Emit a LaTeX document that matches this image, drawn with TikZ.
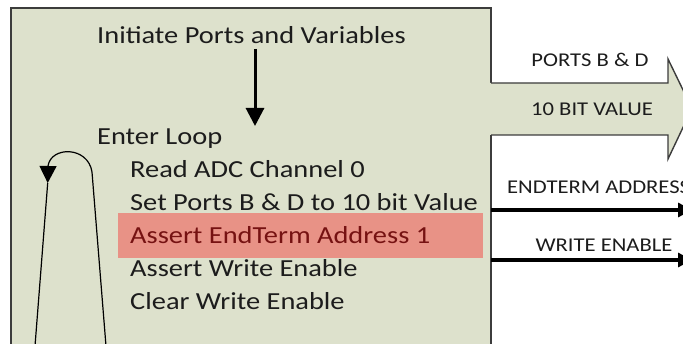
\documentclass[tikz,border=0pt]{standalone}
\usepackage{fontspec}
\setmainfont{Carlito}[FakeStretch=1.16]
\usetikzlibrary{arrows.meta}

\begin{document}
\begin{tikzpicture}[x=1pt,y=-1pt,
  step text/.style={anchor=base west, inner sep=0pt, text=txt, font=\fontsize{24.5}{28}\selectfont},
  sig text/.style={anchor=base, inner sep=0pt, text=txt, font=\fontsize{19.5}{22}\selectfont},
  frame/.style={line width=1.4pt, draw=edge},
  flow/.style={line width=3pt, draw=black, -{Triangle[width=18pt,length=18pt]}},
  loopline/.style={line width=1.2pt, draw=black},
  wire/.style={line width=3.2pt, draw=black, -{Triangle[width=14pt,length=14pt]}}]
\clip (0,0) rectangle (683,344);
\definecolor{bg}{RGB}{221,225,204}
\definecolor{edge}{RGB}{60,60,60}
\definecolor{txt}{RGB}{28,28,28}
\definecolor{hilite}{RGB}{232,146,134}
\definecolor{hitxt}{RGB}{118,18,18}
\fill[white] (0,0) rectangle (683,344);
% main program box
\fill[bg] (11,8) rectangle (491,360);
\draw[frame] (11,360) -- (11,8) -- (491,8) -- (491,360);
% bus arrow
\fill[bg] (489,83) -- (668,83) -- (668,59) -- (692,108.5) -- (668,159) -- (668,135) -- (489,135) -- cycle;
\draw[frame, line join=miter] (491,83) -- (668,83) -- (668,59) -- (692,108.5) -- (668,159) -- (668,135) -- (491,135);
% highlighted step
\fill[hilite] (118,213) rectangle (483,258);
% steps
\node[step text] (init) at (97,44) {Initiate Ports and Variables};
\node[step text] (enter) at (97,145) {Enter Loop};
\node[step text] (adc) at (130,178) {Read ADC Channel 0};
\node[step text] (setp) at (130,211) {Set Ports B \& D to 10 bit Value};
\node[step text, text=hitxt] (endterm) at (130,244) {Assert EndTerm Address 1};
\node[step text] (wen) at (130,277) {Assert Write Enable};
\node[step text] (wclr) at (130,310) {Clear Write Enable};
\coordinate (down1) at (255,49);
\coordinate (down2) at (255,126);
\draw[flow] (down1) -- (down2);
% loop back
\coordinate (up1) at (106,346);
\coordinate (up2) at (92,172);
\coordinate (back1) at (48,166);
\coordinate (back2) at (47.7,183);
\coordinate (back3) at (35,346);
\draw[loopline, -{Triangle[width=17pt,length=17pt]}] (up1) -- (up2) .. controls (88,146) and (51,146) .. (back1) -- (back2);
\draw[loopline] (back2) -- (back3);
% outputs
\node[sig text] (ports) at (590,66.7) {PORTS B \& D};
\node[sig text] (value) at (592,116) {10 BIT VALUE};
\node[sig text, anchor=base west] (addr) at (507,194) {ENDTERM ADDRESS};
\node[sig text] (write) at (604,252) {WRITE ENABLE};
\coordinate (w1a) at (491,210);
\coordinate (w1b) at (692,210);
\coordinate (w2a) at (491,260);
\coordinate (w2b) at (692,260);
\draw[wire] (w1a) -- (w1b);
\draw[wire] (w2a) -- (w2b);
\end{tikzpicture}
\end{document}
